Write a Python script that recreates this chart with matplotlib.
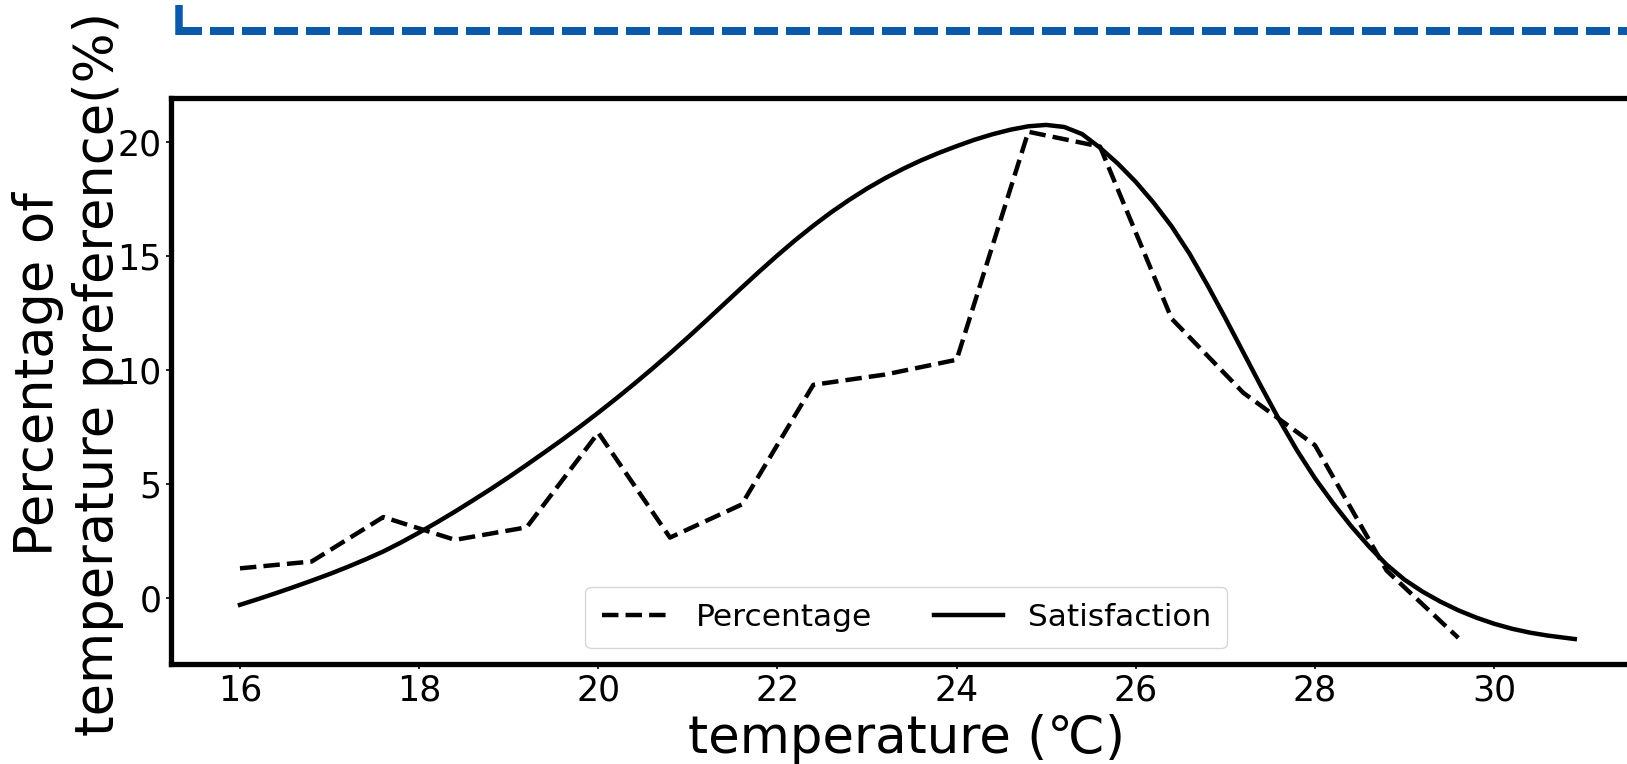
import matplotlib.pyplot as plt
from matplotlib.lines import Line2D

# ===================== data =====================
temp_pct = [16, 16.8, 17.6, 18.4, 19.2, 20, 20.8, 21.6, 22.4, 23.2,
            24, 24.8, 25.6, 26.4, 27.2, 28, 28.8, 29.6]
percentage = [1.3, 1.6, 3.55, 2.55, 3.1, 7.25, 2.65, 4.1, 9.35, 9.8,
              10.45, 20.45, 19.8, 12.25, 9.0, 6.7, 1.2, -1.75]

# satisfaction curve, read every 0.2 degC
temp_sat = [16.0, 16.2, 16.4, 16.6, 16.8, 17.0, 17.2, 17.4, 17.6, 17.8,
            18.0, 18.2, 18.4, 18.6, 18.8, 19.0, 19.2, 19.4, 19.6, 19.8,
            20.0, 20.2, 20.4, 20.6, 20.8, 21.0, 21.2, 21.4, 21.6, 21.8,
            22.0, 22.2, 22.4, 22.6, 22.8, 23.0, 23.2, 23.4, 23.6, 23.8,
            24.0, 24.2, 24.4, 24.6, 24.8, 25.0, 25.2, 25.4, 25.6, 25.8,
            26.0, 26.2, 26.4, 26.6, 26.8, 27.0, 27.2, 27.4, 27.6, 27.8,
            28.0, 28.2, 28.4, 28.6, 28.8, 29.0, 29.2, 29.4, 29.6, 29.8,
            30.0, 30.2, 30.4, 30.6, 30.9]
satisfaction = [-0.3, -0.05, 0.21, 0.48, 0.76, 1.05, 1.36, 1.69, 2.04, 2.44,
                2.87, 3.32, 3.79, 4.28, 4.78, 5.3, 5.84, 6.39, 6.95, 7.53,
                8.13, 8.75, 9.39, 10.05, 10.73, 11.43, 12.15, 12.88, 13.61, 14.33,
                15.03, 15.7, 16.33, 16.92, 17.46, 17.96, 18.41, 18.82, 19.19, 19.52,
                19.82, 20.1, 20.34, 20.54, 20.69, 20.75, 20.66, 20.35, 19.75, 19.05,
                18.25, 17.33, 16.3, 15.1, 13.72, 12.27, 10.77, 9.27, 7.82, 6.47,
                5.25, 4.17, 3.17, 2.27, 1.46, 0.8, 0.28, -0.16, -0.54, -0.86,
                -1.13, -1.35, -1.52, -1.65, -1.8]

x_ticks = [16, 18, 20, 22, 24, 26, 28, 30]
y_ticks = [0, 5, 10, 15, 20]

# ===================== figure =====================
fig = plt.figure(figsize=(16.27, 7.64), dpi=100)
ax = fig.add_axes([0.1051, 0.1309, 0.9041, 0.7408])  # right side runs off the canvas

ax.plot(temp_pct, percentage, color="black", linestyle="--", linewidth=3.2, label="Percentage")
ax.plot(temp_sat, satisfaction, color="black", linestyle="-", linewidth=3.2, label="Satisfaction")

ax.set_xlim(15.23, 31.65)
ax.set_ylim(-2.895, 21.93)
ax.set_xticks(x_ticks)
ax.set_yticks(y_ticks)
ax.tick_params(labelsize=25, width=1.2)

for sp in ax.spines.values():
    sp.set_linewidth(3.8)

ax.set_xlabel("temperature (℃)", fontsize=37)
ax.set_ylabel("Percentage of\ntemperature preference(%)", fontsize=38)
ax.xaxis.set_label_coords(0.5, -0.088)
ax.yaxis.set_label_coords(-0.032, 0.513)

ax.legend(loc="lower center", ncol=2, fontsize=22.5, handlelength=2.2, borderpad=0.52)

# blue dashed frame edge from the surrounding figure (top-left corner)
W, H = 1627, 764
fig.add_artist(Line2D([178.5 / W, 178.5 / W], [1 - 5 / H, 1 - 35 / H],
                      transform=fig.transFigure, color="#0a5aab", linewidth=5.4,
                      solid_capstyle="butt"))
fig.add_artist(Line2D([178 / W, 1.02], [1 - 31 / H, 1 - 31 / H],
                      transform=fig.transFigure, color="#0a5aab", linewidth=5.76,
                      linestyle=(0, (3, 1)), dash_capstyle="butt"))

plt.savefig("out.png", dpi=100)
